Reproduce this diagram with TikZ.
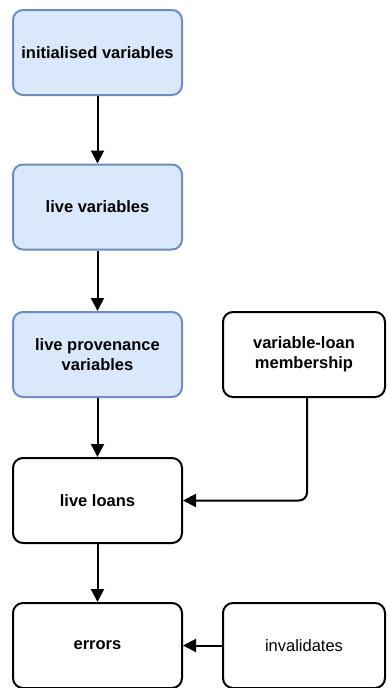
\documentclass[tikz,border=0pt]{standalone}
\usepackage{fontspec}
\setmainfont{Liberation Sans}
\usetikzlibrary{arrows.meta}
\definecolor{boxblue}{HTML}{DAE8FC}
\definecolor{edgeblue}{HTML}{6C8EBF}
\begin{document}
\begin{tikzpicture}[x=1pt,y=-1pt,
  base/.style={rectangle, rounded corners=10pt, line width=2pt, minimum width=169pt, minimum height=85pt, align=center, font=\fontsize{16.5}{20}\selectfont\bfseries, inner sep=0pt},
  bluebox/.style={base, draw=edgeblue, fill=boxblue},
  plainbox/.style={base, draw=black, fill=white},
  sidebox/.style={base, draw=black, fill=white, minimum width=162pt},
  conn/.style={line width=2pt, -{Triangle[length=13pt,width=13pt]}}
]
\useasboundingbox (0,0) rectangle (387,688);
\node[bluebox] (iv) at (97.5,52.5) {initialised variables};
\node[bluebox] (lv) at (97.5,207) {live variables};
\node[bluebox] (lpv) at (97.5,354.5) {live provenance\\variables};
\node[plainbox] (ll) at (97.5,500.5) {live loans};
\node[plainbox] (er) at (97.5,645.5) {errors};
\node[sidebox] (vlm) at (304,354.5) {variable-loan\\membership};
\node[sidebox, font=\fontsize{16.5}{20}\selectfont] (inv) at (304,645.5) {invalidates};
\draw[conn] (iv) -- (lv);
\draw[conn] (lv) -- (lpv);
\draw[conn] (lpv) -- (ll);
\draw[conn] (ll) -- (er);
\draw[conn, rounded corners=8pt] ([xshift=3pt]vlm.south) |- (ll.east);
\draw[conn] (inv) -- (er);
\end{tikzpicture}
\end{document}
